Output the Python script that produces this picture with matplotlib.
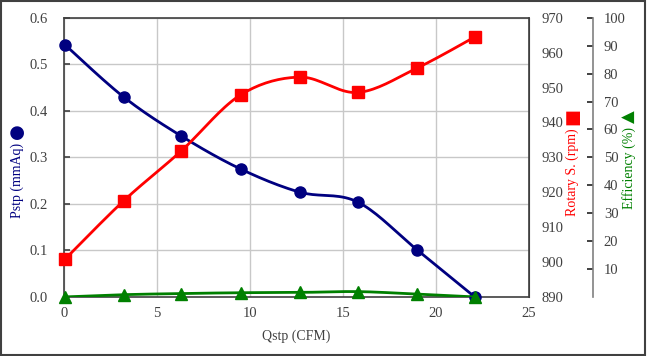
import numpy as np
import matplotlib.pyplot as plt
from matplotlib.ticker import FormatStrFormatter

# data
qstp = [0.05, 3.2, 6.3, 9.5, 12.7, 15.8, 19.0, 22.1]
pstp = [0.542, 0.430, 0.346, 0.275, 0.225, 0.204, 0.101, 0.0]
rotary = [900.8, 917.5, 931.8, 947.9, 953.0, 948.6, 955.6, 964.5]
efficiency = [0.0, 0.8, 1.2, 1.5, 1.6, 1.9, 1.0, 0.0]

x_ticks = [0, 5, 10, 15, 20, 25]
p_ticks = [0.0, 0.1, 0.2, 0.3, 0.4, 0.5, 0.6]
r_ticks = [890, 900, 910, 920, 930, 940, 950, 960, 970]
e_ticks = [10, 20, 30, 40, 50, 60, 70, 80, 90, 100]

NAVY = "#000080"
RED = "#ff0000"
GREEN = "#008000"
TXT = "#404040"


def smooth(x, y, n=20):
    # Catmull-Rom style smoothing, like the spreadsheet's smoothed line
    x = np.asarray(x, float)
    y = np.asarray(y, float)
    px = np.concatenate([[x[0]], x, [x[-1]]])
    py = np.concatenate([[y[0]], y, [y[-1]]])
    xs, ys = [], []
    for i in range(1, len(px) - 2):
        t = np.linspace(0, 1, n)
        for arr, out in ((px, xs), (py, ys)):
            p0, p1, p2, p3 = arr[i - 1], arr[i], arr[i + 1], arr[i + 2]
            m1 = (p2 - p0) / 6.0
            m2 = (p3 - p1) / 6.0
            b = ((1 - t) ** 3 * p1 + 3 * (1 - t) ** 2 * t * (p1 + m1)
                 + 3 * (1 - t) * t ** 2 * (p2 - m2) + t ** 3 * p2)
            out.extend(b)
    return xs, ys


plt.rcParams["font.family"] = ["Liberation Serif", "DejaVu Sans"]
plt.rcParams["font.size"] = 10.5

fig = plt.figure(figsize=(6.47, 3.56), dpi=100)
ax = fig.add_axes([0.099, 0.166, 0.718, 0.784])
ax2 = ax.twinx()
ax3 = ax.twinx()

# Pstp
sx, sy = smooth(qstp, pstp)
ax.plot(sx, sy, color=NAVY, lw=2, zorder=3)
ax.plot(qstp, pstp, "o", color=NAVY, ms=8, zorder=4, clip_on=False)
ax.set_xlim(0, 25)
ax.set_ylim(0, 0.6)
ax.set_xticks(x_ticks)
ax.set_yticks(p_ticks)
ax.yaxis.set_major_formatter(FormatStrFormatter("%.1f"))
ax.grid(True, color="#c8c8c8", lw=1)
ax.set_axisbelow(True)
ax.tick_params(axis="y", direction="in", length=4, width=1.2,
               color="#404040", labelcolor=TXT, pad=12)
ax.tick_params(axis="x", length=0, colors=TXT, pad=7)
for s in ax.spines.values():
    s.set_color("#404040")
    s.set_linewidth(1.2)
ax.set_xlabel("Qstp (CFM)", color=TXT, fontsize=10, labelpad=7)

# Rotary speed
sx, sy = smooth(qstp, rotary)
ax2.plot(sx, sy, color=RED, lw=2, zorder=3)
ax2.plot(qstp, rotary, "s", color=RED, ms=8, zorder=4, clip_on=False)
ax2.set_ylim(890, 970)
ax2.set_yticks(r_ticks)
ax2.tick_params(length=0, colors=TXT, pad=9)
ax2.spines["right"].set_color("#404040")

# Efficiency
sx, sy = smooth(qstp, efficiency)
ax3.plot(sx, sy, color=GREEN, lw=2, zorder=3)
ax3.plot(qstp, efficiency, "^", color=GREEN, ms=8, zorder=4, clip_on=False)
ax3.set_ylim(0, 100)
ax3.set_yticks(e_ticks)
ax3.spines["right"].set_position(("axes", 1.138))
ax3.spines["right"].set_color("#808080")
ax3.spines["right"].set_linewidth(1.2)
ax3.tick_params(direction="in", length=4, width=1.2, color="#202020",
                labelcolor=TXT, pad=8)
for a in (ax2, ax3):
    for k in ("top", "left", "bottom"):
        a.spines[k].set_visible(False)

# axis titles with their series symbols
fig.text(0.026, 0.494, "Pstp (mmAq)", rotation=90, color=NAVY,
         fontsize=10, ha="center", va="center")
fig.text(0.026, 0.632, "●", rotation=90, color=NAVY, fontsize=13,
         family="DejaVu Sans", ha="center", va="center")
fig.text(0.884, 0.515, "Rotary S. (rpm)", rotation=90, color=RED,
         fontsize=10, ha="center", va="center")
fig.text(0.884, 0.672, "■", rotation=90, color=RED, fontsize=13,
         family="DejaVu Sans", ha="center", va="center")
fig.text(0.972, 0.529, "Efficiency (%)", rotation=90, color=GREEN,
         fontsize=10, ha="center", va="center")
fig.text(0.972, 0.672, "▲", rotation=90, color=GREEN, fontsize=12,
         family="DejaVu Sans", ha="center", va="center")

fig.patches.append(plt.Rectangle((0.002, 0.003), 0.995, 0.994,
                                 transform=fig.transFigure, fill=False,
                                 edgecolor="#404040", lw=1.5))

fig.savefig("out.png", dpi=100)
